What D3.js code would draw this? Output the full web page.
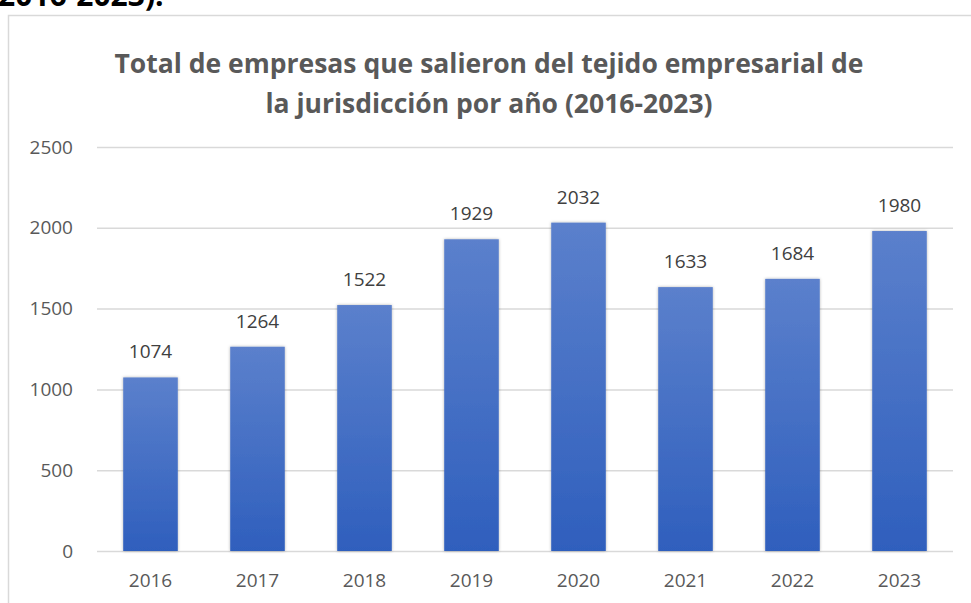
<meta charset="utf-8">
<script src="https://d3js.org/d3.v7.min.js"></script>
<style>
body { margin: 0; background: #fff; }
text { font-family: "Open Sans", "Noto Sans", sans-serif; }
</style>
<body>
<script>
// data
var years = ["2016", "2017", "2018", "2019", "2020", "2021", "2022", "2023"];
var values = [1074, 1264, 1522, 1929, 2032, 1633, 1684, 1980];
var yTicks = [0, 500, 1000, 1500, 2000, 2500];
var titleLines = ["Total de empresas que salieron del tejido empresarial de",
                  "la jurisdicción por año (2016-2023)"];

var W = 971, H = 603;
var margin = {top: 147, right: 18, bottom: 52, left: 97};
var width = W - margin.left - margin.right;
var height = H - margin.top - margin.bottom;

var svg = d3.select("body").append("svg")
    .attr("width", W)
    .attr("height", H);

// gradient + shadow for bars
var defs = svg.append("defs");
var grad = defs.append("linearGradient")
    .attr("id", "barGrad")
    .attr("x1", 0).attr("y1", 0).attr("x2", 0).attr("y2", 1);
grad.append("stop").attr("offset", "0%").attr("stop-color", "#5b80cc");
grad.append("stop").attr("offset", "100%").attr("stop-color", "#2f5fbd");
var shadow = defs.append("filter").attr("id", "shadow")
    .attr("x", "-20%").attr("y", "-10%").attr("width", "140%").attr("height", "120%");
shadow.append("feDropShadow")
    .attr("dx", 0).attr("dy", 0).attr("stdDeviation", 1.6)
    .attr("flood-color", "#000").attr("flood-opacity", 0.3);

// cut-off heading from the document above
svg.append("text")
    .attr("x", -2)
    .attr("y", 6)
    .attr("font-size", "30px")
    .attr("font-weight", "bold")
    .attr("fill", "#000")
    .text("2016-2023).");

// chart frame
svg.append("rect")
    .attr("x", 8.5).attr("y", 15.5)
    .attr("width", 1000).attr("height", 700)
    .attr("fill", "none")
    .attr("stroke", "#d9d9d9")
    .attr("stroke-width", 1.5);

// title
svg.selectAll(".title")
    .data(titleLines)
    .enter().append("text")
    .attr("class", "title")
    .attr("x", 489)
    .attr("y", function(d, i) { return 73 + i * 40; })
    .attr("text-anchor", "middle")
    .attr("font-size", "26.5px")
    .attr("font-weight", "bold")
    .attr("fill", "#595959")
    .text(function(d) { return d; });

var g = svg.append("g")
    .attr("transform", "translate(" + margin.left + "," + margin.top + ")");

var xScale = d3.scaleBand()
    .domain(years)
    .range([0, width])
    .paddingInner(0.49)
    .paddingOuter(0.245);
var yScale = d3.scaleLinear()
    .domain([0, 2500])
    .range([height, 0]);

// grid lines
g.append("g")
    .attr("class", "grid")
    .call(d3.axisLeft(yScale).tickValues(yTicks).tickSize(-width).tickFormat(""))
    .call(function(s) { s.select(".domain").remove(); })
    .selectAll("line")
    .attr("stroke", "#d9d9d9")
    .attr("stroke-width", 1.5);

// y axis labels
g.append("g")
    .call(d3.axisLeft(yScale).tickValues(yTicks).tickSize(0).tickPadding(24)
        .tickFormat(d3.format("d")))
    .call(function(s) { s.select(".domain").remove(); })
    .selectAll("text")
    .attr("font-size", "19px")
    .attr("fill", "#595959");

// x axis labels
g.append("g")
    .attr("transform", "translate(0," + height + ")")
    .call(d3.axisBottom(xScale).tickSize(0).tickPadding(23))
    .call(function(s) { s.select(".domain").remove(); })
    .selectAll("text")
    .attr("font-size", "19px")
    .attr("fill", "#595959");

var data = years.map(function(y, i) { return {year: y, value: values[i]}; });

// bars
g.selectAll(".bar")
    .data(data)
    .enter().append("rect")
    .attr("class", "bar")
    .attr("x", function(d) { return xScale(d.year); })
    .attr("y", function(d) { return yScale(d.value); })
    .attr("width", xScale.bandwidth())
    .attr("height", function(d) { return height - yScale(d.value); })
    .attr("fill", "url(#barGrad)")
    .attr("filter", "url(#shadow)");

// value labels
g.selectAll(".label")
    .data(data)
    .enter().append("text")
    .attr("class", "label")
    .attr("x", function(d) { return xScale(d.year) + xScale.bandwidth() / 2; })
    .attr("y", function(d) { return yScale(d.value) - 19; })
    .attr("text-anchor", "middle")
    .attr("font-size", "19px")
    .attr("fill", "#404040")
    .text(function(d) { return d.value; });
</script>
</body>
